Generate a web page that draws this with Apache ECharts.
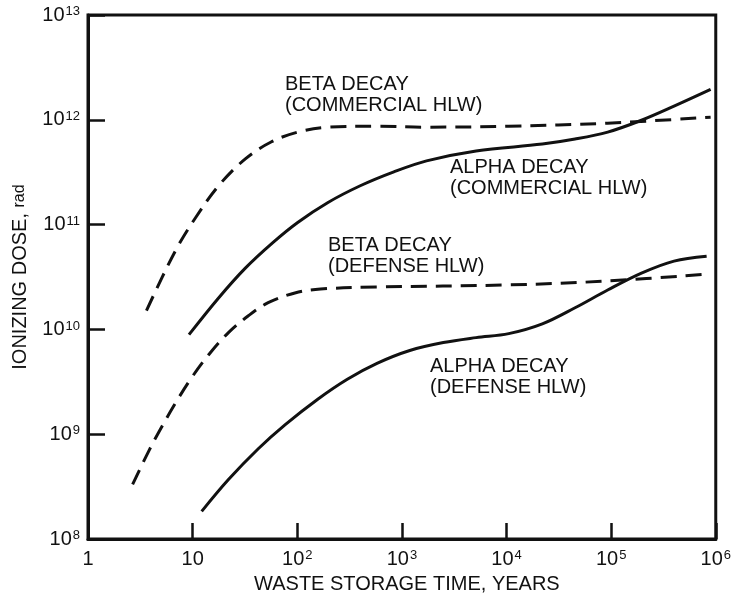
<!DOCTYPE html>
<html>
<head>
<meta charset="utf-8">
<script src="https://cdn.jsdelivr.net/npm/echarts@6/dist/echarts.min.js"></script>
<style>
html,body{margin:0;padding:0;background:#fff;}
#chart{width:734px;height:599px;}
</style>
</head>
<body>
<div id="chart"></div>
<script>
// Data (storage time in years, ionizing dose in rad)
var betaCommercialT = [3.62, 5.12, 7.41, 10.7, 17.7, 31.9, 56.2, 101, 195, 578, 1720, 10500, 92700, 893000];
var betaCommercialV = [1.51e10, 3.16e10, 6.50e10, 1.17e11, 2.35e11, 4.24e11, 6.14e11, 7.64e11, 8.51e11, 8.69e11, 8.51e11, 8.69e11, 9.29e11, 1.06e12];

var alphaCommercialT = [9.23, 17.7, 31.9, 58.8, 101, 195, 400, 838, 1720, 5120, 22000, 45200, 92700, 195000, 399000, 893000];
var alphaCommercialV = [8.93e9, 2.00e10, 3.85e10, 6.78e10, 1.05e11, 1.62e11, 2.35e11, 3.19e11, 4.06e11, 5.05e11, 5.87e11, 6.55e11, 7.64e11, 9.91e11, 1.35e12, 1.95e12];

var betaDefenseT = [2.67, 3.86, 5.12, 6.95, 9.84, 14.3, 22.0, 34.1, 52.7, 94.9, 167, 578, 10500, 92700, 818000];
var betaDefenseV = [3.32e8, 7.11e8, 1.20e9, 2.03e9, 3.50e9, 5.77e9, 9.33e9, 1.35e10, 1.80e10, 2.23e10, 2.43e10, 2.54e10, 2.66e10, 2.90e10, 3.37e10];

var alphaDefenseT = [12.2, 22.0, 42.4, 76.3, 157, 301, 578, 1190, 2490, 5120, 10500, 22000, 45200, 92700, 195000, 399000, 818000];
var alphaDefenseV = [1.84e8, 3.70e8, 7.28e8, 1.23e9, 2.16e9, 3.35e9, 4.75e9, 6.30e9, 7.50e9, 8.36e9, 9.12e9, 1.13e10, 1.61e10, 2.38e10, 3.45e10, 4.49e10, 5.00e10];

var xTickLabels = {1: '1', 10: '10', 100: '10{s|2}', 1000: '10{s|3}', 10000: '10{s|4}', 100000: '10{s|5}', 1000000: '10{s|6}'};
var yTickLabels = {8: '10{s|8}', 9: '10{s|9}', 10: '10{s|10}', 11: '10{s|11}', 12: '10{s|12}', 13: '10{s|13}'};

var curveLabels = [
  'BETA DECAY\n(COMMERCIAL HLW)',
  'ALPHA DECAY\n(COMMERCIAL HLW)',
  'BETA DECAY\n(DEFENSE HLW)',
  'ALPHA DECAY\n(DEFENSE HLW)'
];

function pairs(t, v) { return t.map(function (x, i) { return [x, v[i]]; }); }

var FONT = '"Liberation Sans", Arial, Helvetica, sans-serif';
var chart = echarts.init(document.getElementById('chart'), null, {renderer: 'canvas'});

function xLabel(val) {
  var key = Math.round(val);
  return xTickLabels[key] !== undefined ? xTickLabels[key] : '';
}
function yLabel(val) {
  var e = Math.round(Math.log10(val));
  return yTickLabels[e] !== undefined ? yTickLabels[e] : '';
}

var richNum = {
  s: {fontSize: 13, fontFamily: FONT, color: '#111', verticalAlign: 'top', lineHeight: 13, padding: [0, 0, 0, 1]}
};

var lineBase = {color: '#111', width: 3};
var SMOOTH = 0.35;

var option = {
  backgroundColor: '#fff',
  animation: false,
  grid: {left: 88, right: 12, top: 15, bottom: 56, show: true, borderColor: '#111', borderWidth: 3, backgroundColor: 'transparent'},
  xAxis: {
    type: 'log', logBase: 10, min: 1, max: 1000000, splitNumber: 6,
    name: 'WASTE STORAGE TIME, YEARS', nameLocation: 'middle', nameGap: 28,
    nameTextStyle: {fontSize: 20, fontFamily: FONT, color: '#111', padding: [0, 0, 0, 10]},
    axisLine: {show: true, lineStyle: {color: '#111', width: 3}},
    axisTick: {show: true, inside: true, length: 16, lineStyle: {color: '#111', width: 2.5}},
    minorTick: {show: false},
    splitLine: {show: false},
    axisLabel: {formatter: xLabel, fontSize: 20, fontFamily: FONT, color: '#111', margin: 10, rich: richNum, showMinLabel: true, showMaxLabel: true}
  },
  yAxis: {
    type: 'log', logBase: 10, min: 1e8, max: 1e13, splitNumber: 5,
    name: '{a|IONIZING DOSE, }{b|rad}', nameLocation: 'middle', nameGap: 58, nameRotate: 90,
    nameTextStyle: {rich: {a: {fontSize: 20, fontFamily: FONT, color: '#111'}, b: {fontSize: 16, fontFamily: FONT, color: '#111'}}},
    axisLine: {show: true, lineStyle: {color: '#111', width: 3}},
    axisTick: {show: true, inside: true, length: 17, lineStyle: {color: '#111', width: 2.5}},
    minorTick: {show: false},
    splitLine: {show: false},
    axisLabel: {formatter: yLabel, fontSize: 20, fontFamily: FONT, color: '#111', margin: 8, rich: richNum, showMinLabel: true, showMaxLabel: true}
  },
  series: [
    {name: 'Beta commercial', type: 'line', data: pairs(betaCommercialT, betaCommercialV), smooth: SMOOTH, showSymbol: false, lineStyle: Object.assign({}, lineBase, {type: [16, 9]})},
    {name: 'Alpha commercial', type: 'line', data: pairs(alphaCommercialT, alphaCommercialV), smooth: SMOOTH, showSymbol: false, lineStyle: Object.assign({}, lineBase)},
    {name: 'Beta defense', type: 'line', data: pairs(betaDefenseT, betaDefenseV), smooth: SMOOTH, showSymbol: false, lineStyle: Object.assign({}, lineBase, {type: [16, 9]})},
    {name: 'Alpha defense', type: 'line', data: pairs(alphaDefenseT, alphaDefenseV), smooth: SMOOTH, showSymbol: false, lineStyle: Object.assign({}, lineBase)}
  ],
  graphic: [
    {type: 'text', left: 285, top: 74, style: {text: curveLabels[0], fontSize: 20, fontFamily: FONT, fill: '#111', lineHeight: 21}},
    {type: 'text', left: 450, top: 157, style: {text: curveLabels[1], fontSize: 20, fontFamily: FONT, fill: '#111', lineHeight: 21}},
    {type: 'text', left: 328, top: 235, style: {text: curveLabels[2], fontSize: 20, fontFamily: FONT, fill: '#111', lineHeight: 21}},
    {type: 'text', left: 430, top: 356, style: {text: curveLabels[3], fontSize: 20, fontFamily: FONT, fill: '#111', lineHeight: 21}}
  ]
};
chart.setOption(option);
</script>
</body>
</html>
